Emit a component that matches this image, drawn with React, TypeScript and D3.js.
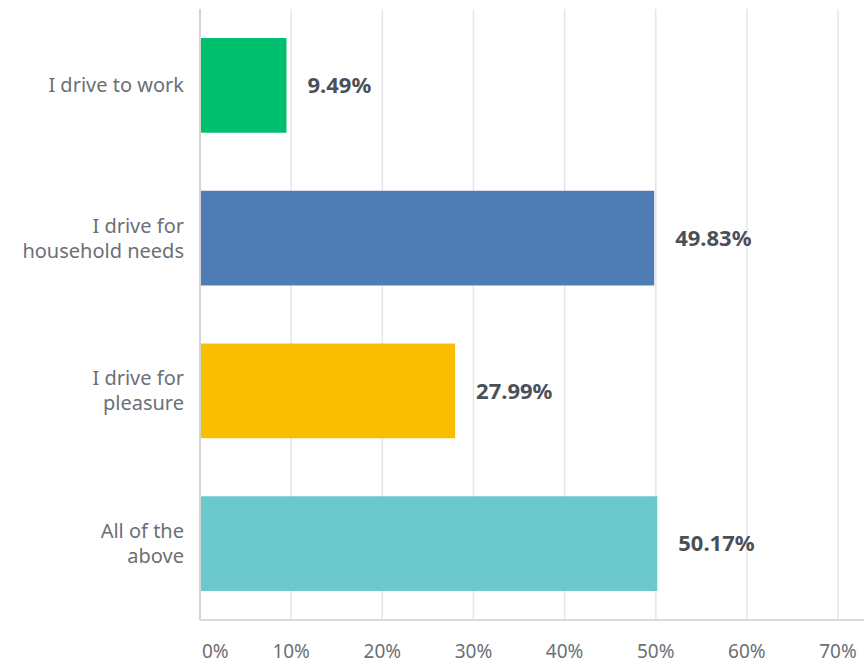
import * as d3 from "d3";

const WIDTH = 864;
const HEIGHT = 664;
const MARGIN = { top: 9, right: 26, bottom: 44, left: 200 };

const categories = [
  ["I drive to work"],
  ["I drive for", "household needs"],
  ["I drive for", "pleasure"],
  ["All of the", "above"],
];
const values = [9.49, 49.83, 27.99, 50.17];
const colors = ["#00bf6f", "#507cb6", "#f9be00", "#6bc8cd"];
const ticks = [0, 10, 20, 30, 40, 50, 60, 70];

const FONT = "'Noto Sans', 'Open Sans', sans-serif";

export default function App() {
  const boundsWidth = WIDTH - MARGIN.left - MARGIN.right;
  const boundsHeight = HEIGHT - MARGIN.top - MARGIN.bottom;

  const xScale = d3.scaleLinear().domain([0, 70]).range([0, boundsWidth]);
  const yScale = d3
    .scaleBand<number>()
    .domain(values.map((_, i) => i))
    .range([0, boundsHeight])
    .paddingInner(0.38)
    .paddingOuter(0.19);

  return (
    <svg
      width={WIDTH}
      height={HEIGHT}
      style={{ position: "absolute", left: 0, top: 0, background: "#fff" }}
    >
      <g transform={`translate(${MARGIN.left},${MARGIN.top})`}>
        {/* grid */}
        {ticks.slice(1).map((t) => (
          <line
            key={t}
            x1={xScale(t)}
            x2={xScale(t)}
            y1={0}
            y2={boundsHeight}
            stroke="#e6e6e6"
            strokeWidth={1.5}
          />
        ))}
        <line x1={0} x2={boundsWidth + MARGIN.right} y1={boundsHeight} y2={boundsHeight} stroke="#d9d9d9" strokeWidth={2} />
        <line x1={0} x2={0} y1={0} y2={boundsHeight} stroke="#d4d4d4" strokeWidth={2} />

        {/* bars */}
        {values.map((v, i) => {
          const y = yScale(i) ?? 0;
          const bh = yScale.bandwidth();
          return (
            <g key={i}>
              <rect x={1} y={y} width={xScale(v) - 1} height={bh} fill={colors[i]} />
              <text
                x={xScale(v) + 21}
                y={y + bh / 2}
                dy="0.35em"
                fontFamily={FONT}
                fontSize={22}
                fontWeight="bold"
                fill="#4b5058"
              >
                {v.toFixed(2) + "%"}
              </text>
              <text
                x={-16}
                y={y + bh / 2}
                textAnchor="end"
                fontFamily={FONT}
                fontSize={20}
                fill="#6b7075"
              >
                {categories[i].map((line, j) => (
                  <tspan
                    key={j}
                    x={-16}
                    dy={j === 0 ? `${0.35 - (categories[i].length - 1) * 0.63}em` : "1.26em"}
                  >
                    {line}
                  </tspan>
                ))}
              </text>
            </g>
          );
        })}

        {/* x axis labels */}
        {ticks.map((t) => (
          <text
            key={t}
            x={t === 0 ? 2 : xScale(t)}
            y={boundsHeight + 38}
            textAnchor={t === 0 ? "start" : "middle"}
            fontFamily={FONT}
            fontSize={19}
            fill="#6b7075"
          >
            {t + "%"}
          </text>
        ))}
      </g>
    </svg>
  );
}
